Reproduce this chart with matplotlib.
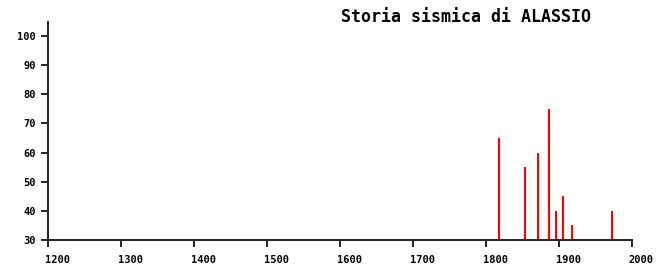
import matplotlib
matplotlib.use("Agg")
import matplotlib.pyplot as plt
import matplotlib.transforms as mtransforms

# seismic history data (year, intensity)
years = [1818, 1854, 1872, 1887, 1896, 1906, 1918, 1973]
intensity = [65, 55, 60, 75, 40, 45, 35, 40]
xticks = [1200, 1300, 1400, 1500, 1600, 1700, 1800, 1900, 2000]
yticks = [30, 40, 50, 60, 70, 80, 90, 100]
title = "Storia sismica di ALASSIO"

fig = plt.figure(figsize=(6.59, 2.71), dpi=100)
ax = fig.add_axes([48 / 659, 31 / 271, 583.7 / 659, 218 / 271])

ax.vlines(years, 30, intensity, color="#ff0000", linewidth=1.5)

ax.set_xlim(1200, 2000)
ax.set_ylim(30, 104.8)
ax.set_xticks(xticks)
ax.set_yticks(yticks)

for s in ["top", "right"]:
    ax.spines[s].set_visible(False)
for s in ["left", "bottom"]:
    ax.spines[s].set_linewidth(1.4)
    ax.spines[s].set_color("#222222")

ax.tick_params(axis="both", direction="out", length=5, width=1.4, color="#222222",
               labelsize=7.5, pad=4)
ax.tick_params(axis="x", pad=6)
for lab in ax.get_xticklabels() + ax.get_yticklabels():
    lab.set_family("DejaVu Sans Mono")
    lab.set_fontweight("bold")
offset = mtransforms.ScaledTranslation(-3 / 100, 0, fig.dpi_scale_trans)
for lab in ax.get_xticklabels():
    lab.set_horizontalalignment("left")
    lab.set_transform(lab.get_transform() + offset)

fig.text(466 / 659, 1 - 17 / 271, title, ha="center", va="center",
         family="DejaVu Sans Mono", fontweight="bold", fontsize=12)

fig.savefig("out.png", dpi=100)
